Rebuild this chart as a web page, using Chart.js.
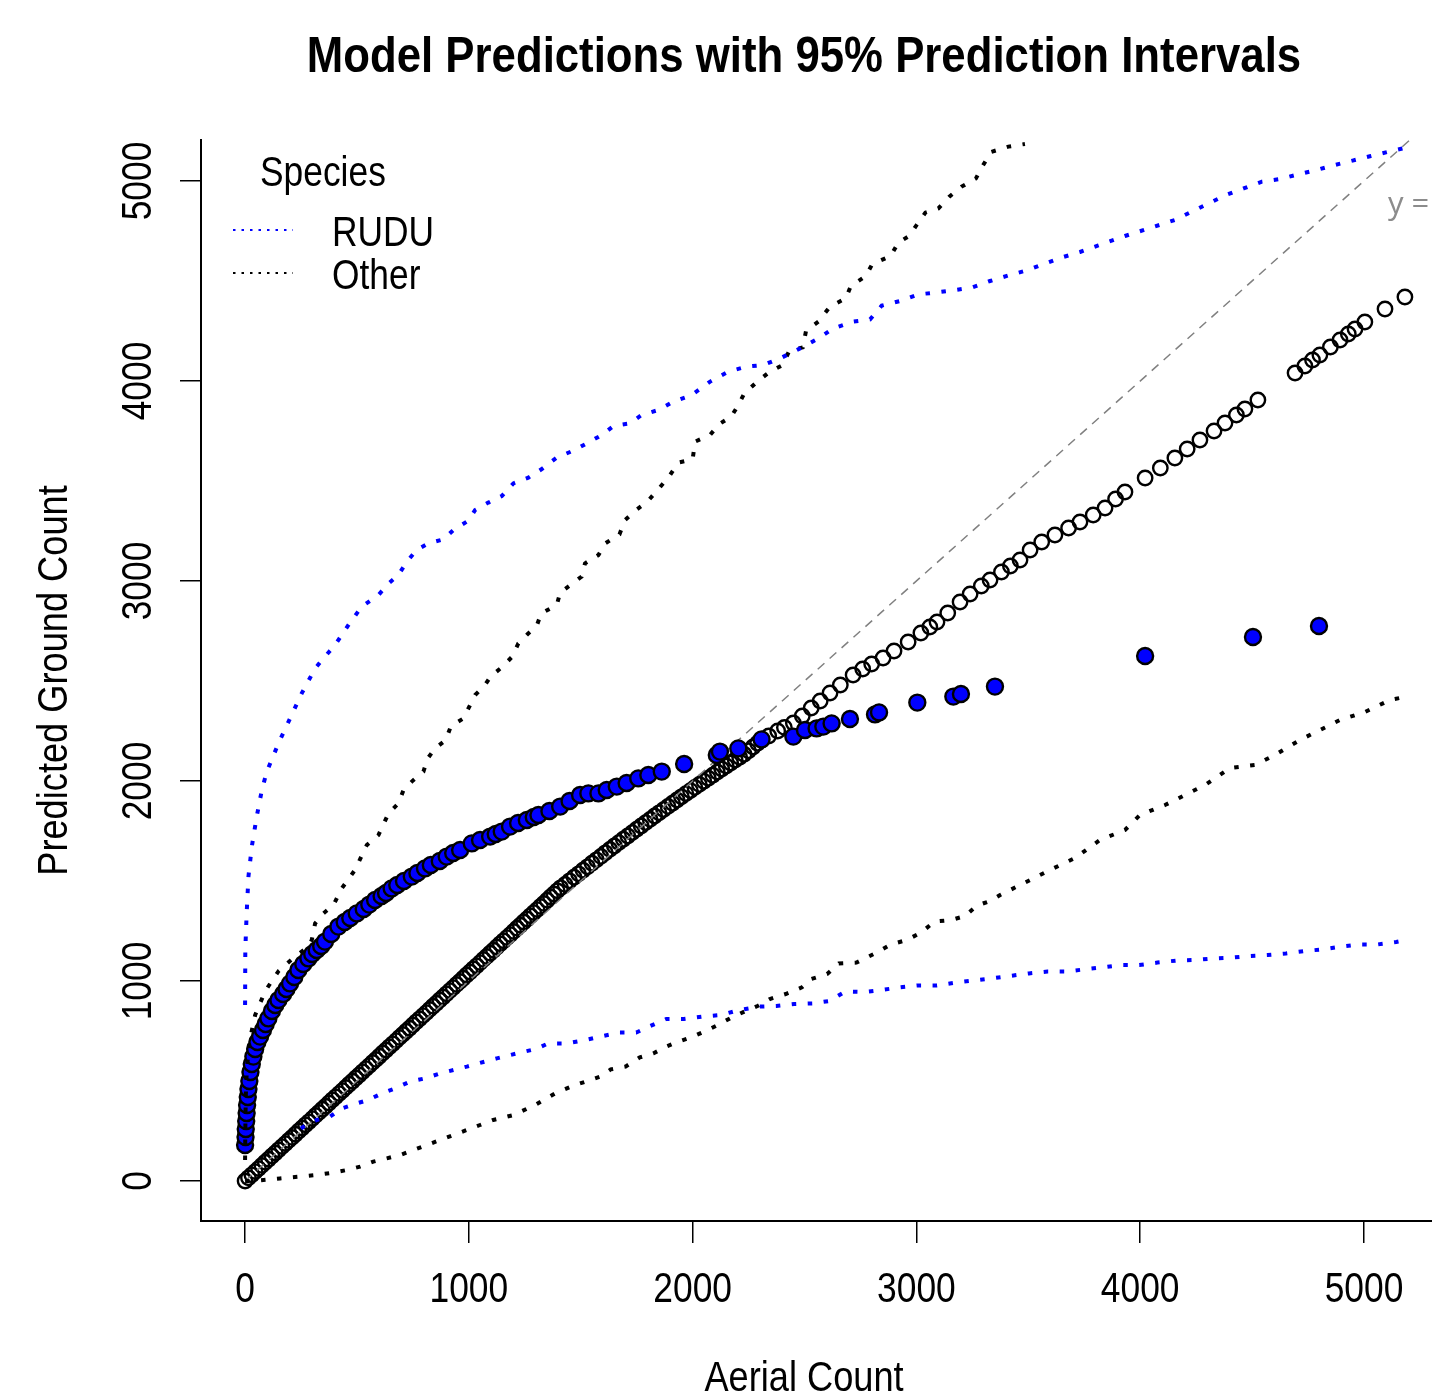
<!DOCTYPE html>
<html>
<head>
<meta charset="UTF-8">
<title>Model Predictions with 95% Prediction Intervals</title>
<script src="https://cdn.jsdelivr.net/npm/chart.js"></script>
<style>
  body { margin: 0; background: #fff; }
</style>
</head>
<body>
<canvas id="myChart" width="1432" height="1398"></canvas>
<script>
// values
const xTicks = [0, 1000, 2000, 3000, 4000, 5000];
const yTicks = [0, 1000, 2000, 3000, 4000, 5000];
const legendTitle = 'Species';
const seriesNames = ['RUDU', 'Other'];

// predicted points, RUDU
const rudu_x = [0,2,3,5,7,9,12,15,19,24,30,37,45,55,67,80,92,104,120,135,149,170,185,201,220,238,260,283,300,320,340,357,385,417,445,470,499,530,555,581,610,630,655,680,710,745,770,804,830,870,901,930,961,1013,1050,1095,1120,1147,1184,1220,1259,1290,1311,1360,1408,1450,1497,1534,1579,1616,1661,1705,1757,1802,1862,1962,2108,2122,2204,2308,2450,2502,2554,2584,2621,2703,2815,2833,3004,3165,3199,3351,4022,4504,4799];
const rudu_y = [180,220,260,300,340,380,420,460,500,545,585,622,660,695,722,755,785,813,850,880,905,935,960,988,1020,1055,1085,1113,1135,1155,1175,1197,1235,1272,1295,1315,1338,1360,1382,1405,1425,1440,1463,1480,1500,1522,1540,1563,1580,1600,1622,1640,1655,1688,1705,1722,1735,1747,1772,1790,1805,1820,1830,1850,1872,1900,1930,1938,1938,1955,1972,1990,2013,2030,2047,2085,2130,2147,2163,2208,2222,2255,2263,2272,2288,2310,2333,2343,2392,2422,2435,2472,2625,2720,2775];

// predicted points, Other (dense band up to ~2300, then spread out)
const other_x = [0,15,30,45,60,75,90,105,120,135,150,165,180,195,210,225,240,255,270,285,300,315,330,345,360,375,390,405,420,435,450,465,480,495,510,525,540,555,570,585,600,615,630,645,660,675,690,705,720,735,750,765,780,795,810,825,840,855,870,885,900,915,930,945,960,975,990,1005,1020,1035,1050,1065,1080,1095,1110,1125,1140,1155,1170,1185,1200,1215,1230,1245,1260,1275,1290,1305,1320,1335,1350,1365,1380,1395,1410,
  1430,1450,1470,1490,1510,1530,1550,1570,1590,1610,1630,1650,1670,1690,1710,1730,1750,1770,1790,1810,1830,1850,1870,1890,1910,1930,1950,1970,1990,2010,2030,2050,2070,2090,2110,2130,2150,2170,2190,2210,2230,2250,2270,2290,
  2308,2340,2380,2410,2450,2490,2530,2570,2614,2660,2717,2760,2800,2851,2900,2963,3020,3060,3092,3140,3195,3240,3290,3329,3380,3420,3463,3508,3560,3619,3680,3731,3790,3843,3890,3932,4022,4090,4155,4210,4267,4330,4379,4430,4468,4526,4692,4736,4770,4803,4850,4893,4930,4960,5004,5094,5183];
const other_y = [0,16,31,47,62,78,94,109,125,140,156,172,187,203,218,234,250,265,281,296,312,328,343,359,374,390,406,421,437,452,468,484,499,515,530,546,562,577,593,608,624,640,655,671,686,702,718,733,749,764,780,796,811,827,842,858,874,889,905,920,936,952,967,983,998,1014,1030,1045,1061,1076,1092,1108,1123,1139,1154,1170,1186,1201,1217,1232,1248,1264,1279,1295,1310,1326,1342,1357,1373,1388,1404,1420,1435,1451,1466,
  1483,1501,1519,1536,1554,1571,1589,1606,1623,1641,1658,1675,1692,1709,1725,1742,1759,1775,1792,1808,1825,1841,1857,1873,1889,1905,1921,1937,1952,1968,1983,1999,2014,2029,2045,2060,2075,2090,2105,2119,2134,2151,2170,2189,
  2205,2225,2250,2268,2290,2325,2365,2400,2440,2480,2530,2560,2585,2615,2650,2695,2740,2770,2795,2840,2895,2935,2975,3005,3045,3075,3105,3155,3195,3230,3265,3295,3330,3365,3410,3445,3515,3565,3615,3660,3705,3750,3790,3830,3860,3905,4040,4075,4105,4130,4170,4205,4235,4260,4295,4360,4420];

// 95% prediction interval bounds, RUDU
const rudu_upper_x = [0,1,7,15,30,52,75,97,149,201,253,313,350,402,462,521,596,641,685,723,767,819,886,931,998,1028,1087,1147,1199,1266,1326,1393,1467,1527,1594,1646,1720,1772,1847,1914,1996,2078,2160,2242,2316,2398,2480,2562,2629,2718,2793,2845,2927,3009,3091,3172,3247,3329,3418,3493,3575,3656,3731,3813,3932,4044,4155,4245,4300,4383,4462,4544,4625,4707,4788,4869,4949,5031,5112,5194];
const rudu_upper_y = [880,1155,1338,1522,1672,1822,1955,2047,2188,2313,2438,2563,2613,2680,2780,2872,2930,2988,3030,3097,3155,3188,3208,3255,3302,3355,3392,3425,3488,3517,3560,3617,3652,3688,3730,3775,3788,3830,3855,3897,3930,3997,4047,4072,4080,4117,4163,4213,4263,4297,4308,4377,4400,4433,4443,4455,4467,4500,4530,4553,4587,4620,4645,4678,4725,4765,4805,4855,4885,4930,4963,4997,5010,5033,5055,5080,5102,5125,5147,5168];
const rudu_lower_x = [250,261,320,380,432,499,551,611,670,737,804,871,931,991,1065,1125,1214,1300,1355,1437,1520,1586,1669,1748,1811,1882,1961,2042,2127,2208,2298,2374,2454,2535,2611,2682,2765,2843,2926,3009,3092,3175,3253,3336,3417,3503,3586,3666,3749,3832,3915,3996,4077,4160,4243,4326,4408,4487,4570,4651,4734,4817,4899,4983,5063,5144,5190];
const rudu_lower_y = [262,272,305,322,363,388,405,438,463,497,513,538,555,572,595,613,638,660,688,688,705,722,742,742,775,810,810,822,830,855,872,875,885,888,900,947,945,955,968,978,978,992,1002,1013,1025,1038,1047,1047,1058,1068,1080,1080,1092,1102,1105,1113,1117,1125,1130,1138,1150,1158,1172,1183,1183,1195,1205];

// 95% prediction interval bounds, Other
const other_upper_x = [0,1,3,8,20,45,90,150,220,283,298,313,350,395,432,491,544,596,641,685,708,745,797,816,849,897,920,976,998,1028,1069,1099,1147,1194,1221,1263,1303,1323,1393,1408,1460,1504,1519,1579,1609,1673,1698,1747,1798,1843,1892,1936,2000,2011,2078,2119,2172,2202,2231,2289,2346,2403,2432,2492,2507,2562,2614,2684,2707,2774,2803,2885,2919,2968,3001,3040,3098,3147,3202,3266,3296,3333,3411,3485];
const other_upper_y = [105,250,420,560,700,830,950,1050,1120,1172,1205,1288,1338,1380,1463,1555,1680,1730,1838,1888,1955,1997,2047,2113,2163,2205,2275,2313,2363,2430,2475,2525,2568,2622,2688,2735,2775,2838,2880,2942,2985,3022,3088,3130,3188,3233,3305,3355,3397,3455,3518,3592,3608,3697,3730,3785,3822,3875,3938,3997,4047,4080,4152,4168,4252,4297,4372,4413,4475,4525,4585,4625,4692,4725,4780,4842,4863,4922,4972,5013,5075,5145,5172,5185];
const other_lower_x = [0,37,82,156,246,320,395,454,514,573,633,693,752,812,871,931,991,1050,1109,1147,1200,1296,1385,1475,1530,1586,1634,1700,1764,1824,1882,1937,2001,2061,2113,2167,2231,2290,2345,2416,2488,2530,2601,2653,2732,2815,2886,2957,3021,3080,3156,3218,3270,3329,3374,3508,3597,3709,3820,3932,3999,4111,4200,4290,4401,4513,4602,4714,4803,4893,5004,5116,5183];
const other_lower_y = [0,0,5,13,22,30,42,55,72,97,113,130,155,180,205,230,255,280,305,315,330,380,438,480,500,522,558,572,618,638,672,697,722,752,780,813,847,875,910,935,968,1010,1035,1088,1092,1138,1183,1205,1242,1297,1305,1325,1377,1400,1430,1505,1555,1615,1705,1755,1830,1880,1930,1980,2065,2080,2130,2205,2255,2305,2345,2405,2420];

// y = x reference line
const ref_x = [0, 5400];
const ref_y = [0, 5400];

const FONT = "'Liberation Sans', Arial, sans-serif";
const SQUEEZE = 0.842;   // the reference text is a bit condensed
const BLUE = '#0000ff';

function pts(xs, ys) {
    return xs.map((x, i) => ({ x: x, y: ys[i] }));
}

function piLine(xs, ys, color) {
    return {
        data: pts(xs, ys),
        showLine: true,
        borderColor: color,
        borderWidth: 4,
        borderDash: [4.5, 11.5],
        borderCapStyle: 'butt',
        pointRadius: 0,
        fill: false,
        tension: 0,
        order: 0
    };
}

// draw condensed text at (x, y), optionally rotated
function squeezedText(ctx, text, x, y, rot) {
    ctx.save();
    ctx.translate(x, y);
    if (rot) ctx.rotate(rot);
    ctx.scale(SQUEEZE, 1);
    ctx.fillText(text, 0, 0);
    ctx.restore();
}

// text, legend and tick labels drawn on top of the chart
const decor = {
    id: 'decor',
    afterDraw(chart) {
        const ctx = chart.ctx;
        const xScale = chart.scales.x;
        const yScale = chart.scales.y;
        const area = chart.chartArea;
        ctx.save();
        ctx.fillStyle = '#000';
        ctx.textAlign = 'center';
        ctx.textBaseline = 'alphabetic';

        // title
        ctx.font = 'bold 50px ' + FONT;
        ctx.save();
        ctx.translate(804, 72);
        ctx.scale(0.875, 1);
        ctx.fillText('Model Predictions with 95% Prediction Intervals', 0, 0);
        ctx.restore();

        // tick labels
        ctx.font = '42px ' + FONT;
        xTicks.forEach(v => squeezedText(ctx, String(v), xScale.getPixelForValue(v), 1302));
        yTicks.forEach(v => squeezedText(ctx, String(v), 151, yScale.getPixelForValue(v), -Math.PI / 2));

        // axis titles
        ctx.font = '43px ' + FONT;
        squeezedText(ctx, 'Aerial Count', 804, 1391);
        squeezedText(ctx, 'Predicted Ground Count', 67, (area.top + area.bottom) / 2, -Math.PI / 2);

        // legend
        ctx.textAlign = 'left';
        ctx.font = '42px ' + FONT;
        squeezedText(ctx, legendTitle, 260, 186);
        const colors = [BLUE, '#000'];
        const rowY = [230, 273];
        seriesNames.forEach((name, i) => {
            ctx.beginPath();
            ctx.strokeStyle = colors[i];
            ctx.lineWidth = 2;
            ctx.setLineDash([2.5, 6]);
            ctx.moveTo(233, rowY[i]);
            ctx.lineTo(293, rowY[i]);
            ctx.stroke();
            ctx.fillStyle = '#000';
            squeezedText(ctx, name, 332, rowY[i] + 16);
        });
        ctx.setLineDash([]);

        // label of the reference line, cut by the right edge
        ctx.font = "31px 'Open Sans', sans-serif";
        ctx.fillStyle = '#8c8c8c';
        ctx.fillText('y = x', 1388, 214);
        ctx.restore();
    }
};

const axisGrid = (len) => ({
    display: true,
    drawOnChartArea: false,
    drawTicks: true,
    tickLength: len,
    color: '#000',
    lineWidth: 1.5
});

new Chart(document.getElementById('myChart'), {
    type: 'scatter',
    data: {
        datasets: [
            piLine(rudu_upper_x, rudu_upper_y, BLUE),
            piLine(rudu_lower_x, rudu_lower_y, BLUE),
            piLine(other_upper_x, other_upper_y, '#000'),
            piLine(other_lower_x, other_lower_y, '#000'),
            {
                label: seriesNames[0],
                data: pts(rudu_x, rudu_y),
                pointRadius: 8,
                pointBorderWidth: 2.4,
                pointBackgroundColor: BLUE,
                pointBorderColor: '#000',
                order: 2
            },
            {
                data: pts(ref_x, ref_y),
                showLine: true,
                borderColor: '#808080',
                borderWidth: 1.5,
                borderDash: [9, 7],
                pointRadius: 0,
                order: 3
            },
            {
                label: seriesNames[1],
                data: pts(other_x, other_y),
                pointRadius: 7.2,
                pointBorderWidth: 2.4,
                pointBackgroundColor: 'rgba(0,0,0,0)',
                pointBorderColor: '#000',
                order: 4
            }
        ]
    },
    options: {
        responsive: false,
        animation: false,
        events: [],
        layout: { autoPadding: false, padding: { top: 140, left: 0, right: 0, bottom: 0 } },
        plugins: {
            legend: { display: false },
            tooltip: { enabled: false },
            title: { display: false }
        },
        scales: {
            x: {
                type: 'linear',
                min: -197,
                max: 5304,
                afterBuildTicks: s => { s.ticks = xTicks.map(v => ({ value: v })); },
                afterFit: s => { s.height = 177; },
                grid: axisGrid(22),
                border: { display: true, color: '#000', width: 2 },
                ticks: { display: false }
            },
            y: {
                type: 'linear',
                min: -200,
                max: 5205,
                afterBuildTicks: s => { s.ticks = yTicks.map(v => ({ value: v })); },
                afterFit: s => { s.width = 201; },
                grid: axisGrid(21),
                border: { display: true, color: '#000', width: 2 },
                ticks: { display: false }
            }
        }
    },
    plugins: [decor]
});
</script>
</body>
</html>
